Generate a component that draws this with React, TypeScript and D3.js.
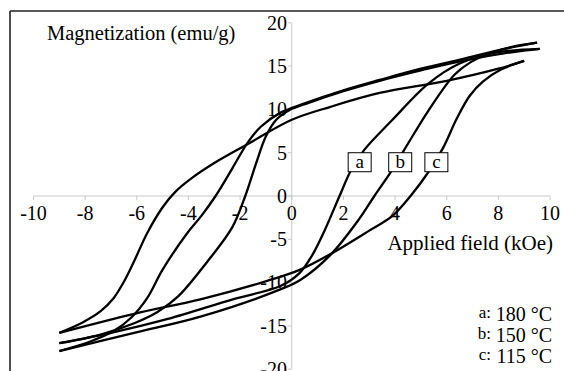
import React from 'react';
import * as d3 from 'd3';

// field (kOe), magnetization (emu/g)
const aDesc: [number, number][] = [
  [9.6, 17.0], [8.5, 16.6], [6.6, 15.6], [5.0, 14.5], [3.4, 13.3], [2.0, 12.1],
  [0.6, 10.7], [-0.1, 9.9], [-0.6, 8.8], [-1.0, 6.9], [-1.4, 3.6], [-1.8, 0],
  [-2.3, -3.6], [-3.3, -7.7], [-4.4, -11.6], [-5.2, -13.4], [-6.1, -14.7],
  [-7.4, -16.0], [-9.0, -17.0],
];
const aAsc: [number, number][] = [
  [-9.0, -17.0], [-7.0, -15.8], [-4.8, -14.2], [-2.25, -11.9], [-0.44, -10.4],
  [0.3, -8.9], [0.8, -6.8], [1.3, -3.8], [1.85, 0], [2.3, 3.0], [2.8, 5.3],
  [3.9, 8.8], [5.3, 13.0], [6.5, 15.3], [8.0, 16.6], [9.6, 17.0],
];
const bDesc: [number, number][] = [
  [9.5, 17.7], [8.1, 16.9], [6.6, 15.8], [5.0, 14.7], [3.4, 13.4], [2.0, 12.2],
  [0.5, 10.7], [-0.45, 9.6], [-1.2, 8.0], [-1.7, 6.2], [-2.3, 3.2], [-2.95, 0],
  [-3.5, -2.3], [-4.05, -4.3], [-5.0, -8.5], [-5.6, -11.8], [-6.2, -14.0],
  [-6.9, -15.6], [-7.8, -16.8], [-9.0, -17.9],
];
const bAsc: [number, number][] = [
  [-9.0, -17.9], [-6.1, -15.8], [-3.5, -13.9], [-0.37, -10.7], [0.33, -9.7],
  [1.5, -6.8], [2.6, -2.7], [3.2, 0], [3.8, 2.6], [4.35, 5.3], [5.3, 9.9],
  [6.3, 14.0], [6.9, 15.4], [7.6, 16.4], [8.5, 17.2], [9.5, 17.7],
];
const cDesc: [number, number][] = [
  [9.0, 15.6], [8.0, 14.7], [6.0, 13.3], [3.4, 11.9], [1.5, 10.3], [0, 8.8],
  [-1.7, 6.0], [-3.0, 3.8], [-3.9, 2.0], [-4.5, 0.5], [-5.0, -1.3], [-5.6, -4.3],
  [-6.1, -7.5], [-6.5, -9.9], [-6.9, -11.8], [-7.4, -13.3], [-8.1, -14.6],
  [-9.0, -15.8],
];
const cAsc: [number, number][] = [
  [-9.0, -15.8], [-6.1, -13.6], [-3.5, -11.9], [-0.95, -9.8], [0.33, -8.5],
  [1.56, -6.6], [3.0, -4.0], [3.9, -2.3], [4.6, 0], [5.3, 2.8], [5.85, 5.5],
  [6.4, 9.0], [6.9, 11.6], [7.4, 13.2], [8.1, 14.6], [9.0, 15.6],
];

const xTicks = [-10, -8, -6, -4, -2, 0, 2, 4, 6, 8, 10];
const yTicks = [20, 15, 10, 5, 0, -5, -10, -15, -20];

const boxLabels = ['a', 'b', 'c'];
const boxFields = [2.63, 4.2, 5.6];
const boxLevel = 3.9;

const legendKeys = ['a:', 'b:', 'c:'];
const legendTemps = ['180 °C', '150 °C', '115 °C'];

const W = 564;
const H = 371;
const font = "'Liberation Serif', 'Times New Roman', Times, serif";

export default function App() {
  const x = d3.scaleLinear().domain([-10, 10]).range([33.5, 550]);
  const y = d3.scaleLinear().domain([-20, 20]).range([369.2, 22.8]);

  const line = d3
    .line<[number, number]>()
    .x((d) => x(d[0]))
    .y((d) => y(d[1]))
    .curve(d3.curveCatmullRom.alpha(0.5));

  const branches = [aDesc, aAsc, bDesc, bAsc, cDesc, cAsc];

  return (
    <svg
      width={W}
      height={H}
      style={{ position: 'fixed', left: 0, top: 0, background: '#fff', fontFamily: font }}
    >
      <rect x={0} y={0} width={W} height={H} fill="#fff" />
      {/* frame (only top and left visible) */}
      <line x1={10} y1={11} x2={W} y2={11} stroke="#222" strokeWidth={1.6} />
      <line x1={10} y1={11} x2={10} y2={H} stroke="#222" strokeWidth={1.6} />

      {/* axes */}
      <line x1={x(-10)} x2={x(10)} y1={y(0)} y2={y(0)} stroke="#c8c8c8" strokeWidth={1} />
      <line x1={x(0)} x2={x(0)} y1={y(20)} y2={y(-20)} stroke="#c8c8c8" strokeWidth={1} />
      {xTicks.map((t) => (
        <line key={'xt' + t} x1={x(t)} x2={x(t)} y1={y(0)} y2={y(0) + 4} stroke="#c8c8c8" />
      ))}
      {yTicks.map((t) => (
        <line key={'yt' + t} x1={x(0) - 4} x2={x(0)} y1={y(t)} y2={y(t)} stroke="#c8c8c8" />
      ))}

      {xTicks.map((t) => (
        <text key={'xl' + t} x={x(t)} y={220} fontSize={20} textAnchor="middle" fill="#000">
          {t}
        </text>
      ))}
      {yTicks.map((t) => (
        <text key={'yl' + t} x={287} y={y(t)} dy="0.34em" fontSize={20} textAnchor="end" fill="#000">
          {t}
        </text>
      ))}

      {/* loops */}
      {branches.map((b, i) => (
        <path key={'br' + i} d={line(b) || ''} fill="none" stroke="#000" strokeWidth={2.3} />
      ))}

      {/* curve labels */}
      {boxLabels.map((l, i) => (
        <g key={'bx' + l}>
          <rect
            x={x(boxFields[i]) - 11.5}
            y={y(boxLevel) - 9.5}
            width={23}
            height={19}
            fill="#fff"
            stroke="#000"
            strokeWidth={1}
          />
          <text x={x(boxFields[i])} y={y(boxLevel) + 6} fontSize={19} textAnchor="middle" fill="#000">
            {l}
          </text>
        </g>
      ))}

      <text x={47} y={40} fontSize={20.5} fill="#000">
        Magnetization (emu/g)
      </text>
      <text x={553} y={250} fontSize={21} textAnchor="end" fill="#000">
        Applied field (kOe)
      </text>

      {legendTemps.map((t, i) => (
        <g key={'lg' + i}>
          <text x={491} y={318 + i * 21} fontSize={17} textAnchor="end" fill="#000">
            {legendKeys[i]}
          </text>
          <text x={552} y={321 + i * 21} fontSize={20} textAnchor="end" fill="#000">
            {t}
          </text>
        </g>
      ))}
    </svg>
  );
}
